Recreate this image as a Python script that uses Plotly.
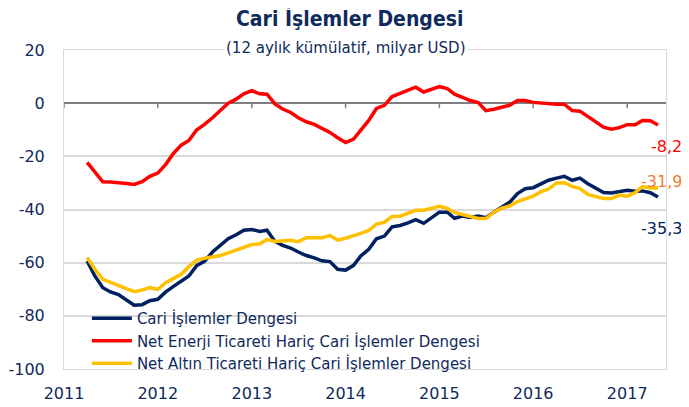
import pandas as pd
import plotly.graph_objects as go

# monthly, Apr 2011 - May 2017 (12-month cumulative, bn USD)
months = pd.date_range("2011-04-01", "2017-05-01", freq="MS")

cari = [
    -59.4, -65.0, -69.4, -71.0, -72.0, -74.0, -76.0, -75.8, -74.3,
    -73.8, -71.0, -69.0, -67.0, -65.0, -61.0, -59.5, -56.0, -53.5, -51.0, -49.5, -47.8, -47.5,
    -48.3, -47.8, -52.0, -53.5, -54.5, -56.0, -57.3, -58.2, -59.3, -59.6, -62.5, -62.8,
    -61.0, -57.5, -55.0, -51.0, -50.0, -46.5, -46.0, -45.0, -43.8, -45.2, -43.0, -41.0,
    -41.0, -43.3, -42.5, -43.0, -42.5, -43.1, -41.0, -39.0, -37.3, -34.0, -32.2, -31.8,
    -30.3, -29.0, -28.2, -27.5, -29.0, -28.2, -30.3, -32.0, -33.6, -33.8, -33.2, -32.8,
    -33.1, -33.0, -33.7, -35.3,
]
enerji_haric = [
    -22.3, -26.0, -29.6, -29.7, -29.8, -30.2, -30.6, -29.5, -27.5,
    -26.3, -23.0, -19.0, -15.8, -14.0, -10.0, -8.0, -5.5, -2.5, 0.0, 1.5, 3.5, 4.7,
    3.5, 3.4, -0.3, -2.2, -3.5, -5.5, -7.0, -8.0, -9.5, -11.0, -13.0, -14.8,
    -13.5, -10.0, -6.5, -2.0, -0.8, 2.5, 3.6, 4.6, 6.0, 4.2, 5.3, 6.2,
    5.5, 3.4, 2.2, 1.0, 0.2, -2.8, -2.3, -1.5, -0.8, 1.0, 1.0, 0.3,
    0.0, -0.4, -0.4, -0.4, -2.8, -3.0, -5.0, -7.3, -9.0, -9.8, -9.2, -8.1,
    -8.1, -6.5, -6.6, -8.2,
]
altin_haric = [
    -58.1, -62.5, -66.3, -67.5, -68.5, -70.0, -70.9, -70.3, -69.4,
    -70.0, -67.5, -66.0, -64.4, -61.5, -59.0, -58.3, -57.8, -57.3, -56.3, -55.3, -54.0, -53.2,
    -52.9, -51.3, -52.0, -51.9, -51.6, -52.1, -50.6, -50.6, -50.6, -49.8, -51.5, -50.8,
    -50.0, -49.0, -47.9, -45.5, -44.8, -42.6, -42.5, -41.2, -40.3, -40.3, -39.5, -38.8,
    -39.6, -41.1, -41.9, -42.8, -43.4, -43.4, -41.0, -39.5, -38.7, -37.0, -36.0, -35.0,
    -33.3, -32.3, -30.0, -29.9, -31.3, -32.1, -34.3, -35.2, -35.9, -35.9, -34.6, -35.0,
    -33.6, -31.4, -31.9, -31.9,
]

names = [
    "Cari İşlemler Dengesi",
    "Net Enerji Ticareti Hariç Cari İşlemler Dengesi",
    "Net Altın Ticareti Hariç Cari İşlemler Dengesi",
]
colors = ["#002060", "#FF0000", "#FFC000"]
label_colors = ["#002060", "#FF0000", "#ED7D31"]
label_shift = [-31, -22, 6]

years = [2011, 2012, 2013, 2014, 2015, 2016, 2017]
y_ticks = [20, 0, -20, -40, -60, -80, -100]

NAVY = "#0F2A5C"
FONT = "DejaVu Sans"
TITLE_FONT = "DejaVu Sans Condensed, Liberation Sans Narrow, DejaVu Sans"

fig = go.Figure()
series = [cari, enerji_haric, altin_haric]
for name, vals, col in zip(names, series, colors):
    fig.add_trace(go.Scatter(
        x=months, y=vals, name=name, mode="lines",
        line=dict(color=col, width=3.5),
    ))

# end-of-series data labels (right edge near the figure border)
for vals, col, shift in zip(series, label_colors, label_shift):
    fig.add_annotation(
        x=1.028, y=vals[-1], xref="paper", yref="y",
        text=f"{vals[-1]:.1f}".replace(".", ","), showarrow=False,
        xanchor="right", yshift=shift, borderpad=0,
        font=dict(family=FONT, size=16, color=col),
    )

# small downward tick marks on the zero line
for yr in years:
    fig.add_shape(type="line", xref="x", yref="y",
                  x0=f"{yr}-01-01", x1=f"{yr}-01-01", y0=0, y1=-1.9,
                  line=dict(color="#808080", width=1.5))

fig.add_annotation(
    text="<b>Cari İşlemler Dengesi</b>", xref="paper", yref="paper",
    x=0.475, y=1.10, showarrow=False, yanchor="middle",
    font=dict(family=TITLE_FONT, size=21, color=NAVY),
)
fig.add_annotation(
    text="(12 aylık kümülatif, milyar USD)", xref="paper", yref="paper",
    x=0.468, y=1.006, showarrow=False, yanchor="middle", bgcolor="white",
    font=dict(family=FONT, size=15, color=NAVY),
)

# page body adds an 8px margin, so the figure is sized 8px smaller
fig.update_layout(
    width=681, height=399,
    margin=dict(l=56, r=23, t=42, b=38),
    paper_bgcolor="white", plot_bgcolor="white",
    font=dict(family=FONT, size=16, color=NAVY),
    showlegend=True,
    legend=dict(
        x=0.038, y=0.21, xanchor="left", yanchor="top",
        bgcolor="rgba(0,0,0,0)", font=dict(family=FONT, size=15, color=NAVY),
        itemwidth=40, tracegroupgap=0,
    ),
)
fig.update_xaxes(
    type="date", range=["2011-01-01", "2017-06-01"], automargin=False,
    tickvals=[f"{y}-01-01" for y in years], ticktext=[str(y) for y in years],
    showgrid=False, zeroline=False, ticks="",
    showline=True, mirror=True, linecolor="#D9D9D9", linewidth=1,
    ticklabelstandoff=10, tickfont=dict(family=FONT, size=16, color=NAVY),
)
fig.update_yaxes(
    range=[-100, 20], tickvals=y_ticks, ticktext=[str(v) for v in y_ticks],
    automargin=False,
    showgrid=True, gridcolor="#D9D9D9", gridwidth=1.5,
    zeroline=True, zerolinecolor="#808080", zerolinewidth=2,
    showline=True, mirror=True, linecolor="#D9D9D9", linewidth=1,
    ticks="", ticklabelstandoff=15, tickfont=dict(family=FONT, size=16, color=NAVY),
)

fig.write_html("out.html")
